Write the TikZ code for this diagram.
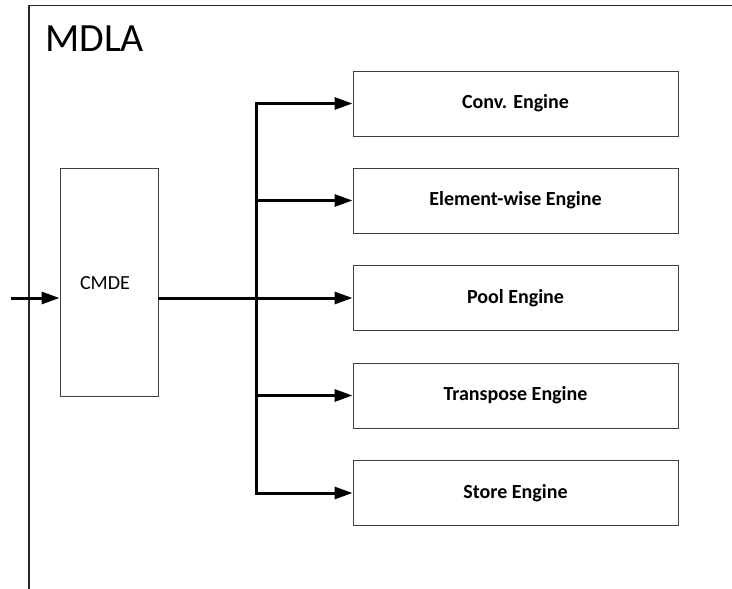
\documentclass[tikz,border=0pt]{standalone}
\usepackage{fontspec}
\setmainfont{Carlito}
\usetikzlibrary{arrows.meta}
\begin{document}
\begin{tikzpicture}[x=1pt,y=-1pt,
  frameline/.style={line width=1.3pt,draw=black!85},
  blockbox/.style={draw=black!75,line width=0.9pt,fill=white,inner sep=0pt},
  enginebox/.style={blockbox,minimum width=325pt,minimum height=65pt,font=\fontsize{20}{24}\selectfont\bfseries},
  busline/.style={line width=3pt,draw=black},
  arrowline/.style={busline,-{Triangle[length=18pt,width=12pt]}}]
\useasboundingbox (0,0) rectangle (732,589);
\draw[frameline] (29,589) -- (29,5.5) -- (732,5.5);
\node[anchor=base west,inner sep=0pt,font=\fontsize{40}{48}\selectfont] (title) at (45,52) {MDLA};
\node[blockbox,minimum width=98pt,minimum height=228pt,font=\fontsize{20}{24}\selectfont] (cmde) at (109,282) {};
\node[font=\fontsize{20}{24}\selectfont,inner sep=0pt] (cmdelabel) at (105,283) {CMDE};
\node[enginebox] (conv) at (515.5,103.5) {Conv. Engine};
\node[enginebox] (elem) at (515.5,200.5) {Element-wise Engine};
\node[enginebox] (pool) at (515.5,298) {Pool Engine};
\node[enginebox] (trans) at (515.5,395.5) {Transpose Engine};
\node[enginebox] (store) at (515.5,493) {Store Engine};
\coordinate (inp) at (11,298);
\coordinate (bus) at (256,298);
\draw[arrowline] (inp) -- (inp -| cmde.west);
\draw[busline] (cmde.east |- bus) -- (bus);
\draw[busline,line cap=rect] (bus |- conv.west) -- (bus |- store.west);
\foreach \e in {conv,elem,pool,trans,store}
  \draw[arrowline] (bus |- \e.west) -- (\e.west);
\end{tikzpicture}
\end{document}
